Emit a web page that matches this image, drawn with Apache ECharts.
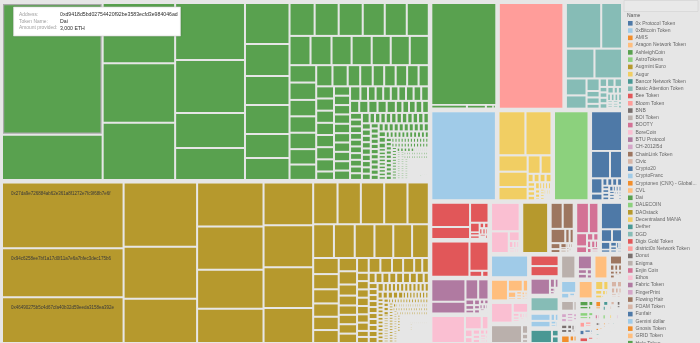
<!DOCTYPE html>
<html>
<head>
<meta charset="utf-8">
<script src="https://cdn.jsdelivr.net/npm/echarts/dist/echarts.min.js"></script>
<style>
  html, body { margin: 0; padding: 0; background: #e6e6e6; }
  #chart { width: 700px; height: 343px; }
</style>
</head>
<body>
<div id="chart"></div>
<script>
// Tableau 20 palette, assigned to tokens in alphabetical order
const palette = ['#4e79a7','#a0cbe8','#f28e2b','#ffbe7d','#59a14f','#8cd17d','#b6992d','#f1ce63','#499894','#86bcb6',
                 '#e15759','#ff9d9a','#79706e','#bab0ac','#d37295','#fabfd2','#b07aa1','#d4a6c8','#9d7660','#d7b5a6'];

const tokenNames = ['0x Protocol Token','0xBitcoin Token','AMIS','Aragon Network Token','AshleighCoin','AstroTokens',
  'Augmint Euro','Augur','Bancor Network Token','Basic Attention Token','Bee Token','Bloom Token','BNB','BOI Token',
  'BOOTY','BoreCoin','BTU Protocol','CH-2012l5d','ChainLink Token','Civic','Crypto20','CryptoFranc',
  'Cryptonex (CNX) - Global Blockchain','CVL','Dai','DALECOIN','DAOstack','Decentraland MANA','Dether','DGD',
  'Digix Gold Token','district0x Network Token','Donut','Enigma','Enjin Coin','Ethos','Fabric Token','FingerPrint',
  'Flowing Hair','FOAM Token','Funfair','Gemini dollar','Gnosis Token','GRID Token','Holo Token','HuobiToken',
  'HybridBlock','IOSToken','KyberNetwork','Loom Token','Maker','Mithril Token','Monaco','Nexo','OmiseGO','Ox Fina',
  'Paxos Standard','Polymath','Populous Platform','Power Ledger','QASH','Quantstamp','Raiden Token','Request Token',
  'SingularityNET','Status Network Token','Storj','Tether USD','TrueUSD','USD Coin','VeChain','Wax Token',
  'Wrapped Ether','XYO Network','Zilliqa'];

// Amounts provided (ETH) per address; [value, n] means n addresses with that amount
const daiAmounts = [3000, 1030, 990, 973, 939, 900, 838, 553, 506, 412, 323, 293, 293, 240, 222,
  187, 179, 179, 164, 164, 164, 139, 139, 133, 133, 126, 126, 126, 105, 105, 99, 99, 99, 93, 93,
  78, 73, 60, 60, 55, 55, 55, 55, [49, 8], [34, 12], [25, 14], [18, 16], [12.6, 20], [9.2, 24],
  [5.7, 30], [3.4, 40], [2, 60], [1.2, 80]];
const daiAddresses = ['0xd9418d5bd02754420f92be3583ecfd3e984046ad'];

const daoStackAmounts = [1814, 1347, 1264, 1070, 869, 736, 665, 650, 589, 514, 482, 471, 460, 393,
  231, 221, 221, 221, 202, 159, 159, 151, 144, 144, 128, 93, 88, 82, 77, 77, 75, 55, 55, 46, 41,
  [39, 7], 37, 37, 27, [22, 8], [16, 10], [12, 12], [8, 16], [5, 24], [3, 40], [2.2, 60], [1.4, 80], [0.9, 80]];
const daoStackAddresses = ['0x27da9e726884ab62e361a8f1272e7fc9f68b7e6f',
  '0x94c6258ee7bf1a17d0f11a7e6a7bfec3dec175b6', '0x46490275b5c4d67cfa40b32d59eeda3158ea392e'];

const ashleighAmounts = [1564, 31, 16.5, 6.4, 2.7];
const bloomAmounts = [1610];
const batAmounts = [382, 225, 202, 195, 83, 65, 39, 20, 20, [15, 4], [10, 5], [6.5, 6], [3.3, 8]];
const bitcoinAmounts = [1365];
const manaAmounts = [285, 275, 114, 107, 93, 57, 48, [12, 4], [8, 5], [5, 6], [3, 8], [1.5, 6]];
const dalecoinAmounts = [753];
const zrxAmounts = [303, 128, 81, 43, 19, [9, 4], [6, 5], [4, 6], [2, 8]];
const beeAmounts = [232, 116, 91, 23, 8, 8, 6, 6, 5, 5, 4, 4, 3, 3];
const digixAmounts = [333, 138, 19, 9.5];
const btuAmounts = [190, 100, 64, 52, 12, 10, 8, 8, 6, 6, 5, 5, 4, 4, 3, 3, 2, 2, 2];
const boreAmounts = [230, 57, 23, 15, 11.5, 10, 7.7, 7.7, 6.4, 5, 5, 3.8, 3.8, 2.6, 2.6];
const ethosAmounts = [207, 98, 27, 8, 6, 5, 4, 4, 3, 3];
const augmintAmounts = [332];
const chainlinkAmounts = [81, 74, 54, 16, 15, 15, 10, 8, 4, 4, 3, 3, 3, 2, 2, 2, 1.5, 1.5];
const bootyAmounts = [100, 75, 37, 18.5, 12, 10, 8, 8, 6, 6, 5, 4];
const crypto20Amounts = [145, 36.5, 33, 19, 8, 8, 6, 5, 5, 4, 3, 3];
const cryptoFrancAmounts = [212];
const aragonAmounts = [93, 46.5, 16.6, 13.9, 5.5, 5, 4.4, 3.9, 3.3, 2.8, 2.8, 2.2, 1.7, 1.7];
const oxFinaAmounts = [114, 40.5, 7.4, 6.1, 4.9, 4.9, 3.7, 3.7, 2.9, 2.5, 2.5, 2];
const boiAmounts = [149, 14, 9, 6];
const makerAmounts = [80, 77];
const fabricAmounts = [87, 12.5, 9.4, 5.2, 3.9, 3.1, 2.6, 2.1];
const dgdAmounts = [112];
const quantstampAmounts = [41, 37, 9, 7.5, 6, 4.5, 4.2];
const bancorAmounts = [81, 12.6, 12.6];
const enigmaAmounts = [95];
const paxosAmounts = [55.5, 12, 12, 7.5, 6];
const gridAmounts = [88];
const flowingHairAmounts = [32, 8.3, 7, 7, 5.5, 5.5, 4.1, 4.1, 3.3, 2.8, 2.4];
const geminiAmounts = [53, 13.5, 6, 3.5, 2];
const cvlAmounts = [73];
const augurAmounts = [22, 14, 10, 8, 6, 4, 2.5, 2, 1.5];
const civicAmounts = [12, 10, 8, 7, 6, 5, 4, 3, 3, 2];
const nexoAmounts = [40, 10];

// Tokens with only small positions
const smallTokenAmounts = [
  ['FingerPrint', [9, 8, 7, 6, 6, 5, 4, 2]], ['Donut', [9, 8, 7, 6, 6, 4, 3, 1]],
  ['AMIS', [22, 9, 6, 4]], ['Holo Token', [16, 10, 8, 4, 2]], ['AstroTokens', [14, 9, 7, 4, 2]],
  ['Mithril Token', [12, 8, 6, 4]], ['Funfair', [10, 8, 5, 3, 2]], ['VeChain', [16, 6, 4]],
  ['Gnosis Token', [14, 6, 4]], ['Dether', [10, 6, 4, 2]], ['FOAM Token', [8, 5, 4, 3]],
  ['Monaco', [8, 5, 3, 2]], ['Enjin Coin', [7, 5, 3, 2]], ['HuobiToken', [8, 4, 4]],
  ['IOSToken', [6, 4, 3, 2]], ['Polymath', [6, 4, 2, 2]], ['BNB', [7, 4, 2]], ['Raiden Token', [6, 4, 2]],
  ['Loom Token', [6, 3, 2]], ['district0x Network Token', [5, 3, 2]],
  ['Cryptonex (CNX) - Global Blockchain', [5, 4]], ['KyberNetwork', [4, 2, 2]],
  ['Populous Platform', [4, 2, 2]], ['Power Ledger', [4, 3]], ['QASH', [4, 2, 1]], ['OmiseGO', [3, 2, 1]],
  ['Request Token', [3, 2, 1]], ['SingularityNET', [3, 2, 1]], ['Status Network Token', [3, 2]],
  ['Storj', [3, 2]], ['Tether USD', [2, 2]], ['TrueUSD', [2, 1, 1]], ['USD Coin', [2, 1]],
  ['Wax Token', [2, 1]], ['CH-2012l5d', [2, 1]], ['Wrapped Ether', [1, 1]], ['XYO Network', [1, 1]],
  ['Zilliqa', [1, 1]], ['HybridBlock', [1, 1]]
];

const holdings = [
  ['Dai', daiAmounts, daiAddresses], ['DAOstack', daoStackAmounts, daoStackAddresses],
  ['AshleighCoin', ashleighAmounts], ['Bloom Token', bloomAmounts], ['Basic Attention Token', batAmounts],
  ['0xBitcoin Token', bitcoinAmounts], ['Decentraland MANA', manaAmounts], ['DALECOIN', dalecoinAmounts],
  ['0x Protocol Token', zrxAmounts], ['Bee Token', beeAmounts], ['Digix Gold Token', digixAmounts],
  ['BTU Protocol', btuAmounts], ['BoreCoin', boreAmounts], ['Ethos', ethosAmounts],
  ['Augmint Euro', augmintAmounts], ['ChainLink Token', chainlinkAmounts], ['BOOTY', bootyAmounts],
  ['Crypto20', crypto20Amounts], ['CryptoFranc', cryptoFrancAmounts], ['Aragon Network Token', aragonAmounts],
  ['Ox Fina', oxFinaAmounts], ['BOI Token', boiAmounts], ['Maker', makerAmounts], ['Fabric Token', fabricAmounts],
  ['DGD', dgdAmounts], ['Quantstamp', quantstampAmounts], ['Bancor Network Token', bancorAmounts],
  ['Enigma', enigmaAmounts], ['Paxos Standard', paxosAmounts], ['GRID Token', gridAmounts],
  ['Flowing Hair', flowingHairAmounts], ['Gemini dollar', geminiAmounts], ['CVL', cvlAmounts],
  ['Augur', augurAmounts], ['Civic', civicAmounts], ['Nexo', nexoAmounts]
].concat(smallTokenAmounts);

const BG = '#e6e6e6';
const colorOf = name => palette[tokenNames.indexOf(name) % palette.length];

function expand(list) {
  const out = [];
  list.forEach(v => {
    if (Array.isArray(v)) { for (let i = 0; i < v[1]; i++) out.push(v[0]); }
    else out.push(v);
  });
  return out;
}

const hovered = { token: 'Dai', index: 0 };

const treeData = holdings.map(([token, amounts, addresses]) => {
  const color = colorOf(token);
  return {
    name: token,
    itemStyle: { color },
    children: expand(amounts).map((v, i) => {
      const leaf = { name: (addresses && addresses[i]) || '', value: v, itemStyle: { color } };
      if (token === 'DAOstack' && addresses && addresses[i]) leaf.label = { show: true };
      if (token === hovered.token && i === hovered.index) {
        leaf.itemStyle = { color, borderColor: '#a8a8a8', borderWidth: 1.2 };
      }
      return leaf;
    })
  };
});

// Hover card content for the highlighted address
const hoveredAmount = expand(daiAmounts)[hovered.index];
const cardRows = [
  ['Address:', daiAddresses[hovered.index]],
  ['Token Name:', hovered.token],
  ['Amount provided:', hoveredAmount.toLocaleString('en-US') + ' ETH']
];

const graphics = [];
// hover card
graphics.push({ type: 'rect', z: 100, shape: { x: 13.5, y: 7, width: 167, height: 29 },
  style: { fill: '#ffffff', stroke: '#dcdcdc', lineWidth: 0.6, shadowBlur: 2, shadowColor: 'rgba(0,0,0,0.12)' } });
cardRows.forEach((r, i) => {
  const y = 14.7 + i * 6.7;
  graphics.push({ type: 'text', z: 101, x: 19, y, style: { text: r[0], fontSize: 4.9,
    fontFamily: 'Liberation Sans', fill: '#a0a0a0', verticalAlign: 'middle' } });
  graphics.push({ type: 'text', z: 101, x: 60, y, style: { text: r[1], fontSize: 5.2,
    fontFamily: 'Liberation Sans', fill: '#2e2e2e', verticalAlign: 'middle' } });
});

// legend panel
graphics.push({ type: 'rect', z: 100, shape: { x: 624, y: 0.5, width: 74, height: 11 },
  style: { fill: '#e9e9e9', stroke: '#d6d6d6', lineWidth: 0.8 } });
graphics.push({ type: 'text', z: 101, x: 627, y: 15.8, style: { text: 'Name', fontSize: 5,
  fontFamily: 'Liberation Sans', fill: '#555555', verticalAlign: 'middle' } });
tokenNames.forEach((name, i) => {
  const cy = 23.3 + i * 7.27;
  if (cy > 350) return;
  const label = name.length > 26 ? name.slice(0, 24) + '...' : name;
  graphics.push({ type: 'rect', z: 101, shape: { x: 628, y: cy - 2.3, width: 4.6, height: 4.6 },
    style: { fill: palette[i % palette.length] } });
  graphics.push({ type: 'text', z: 101, x: 635.5, y: cy, style: { text: label, fontSize: 5,
    fontFamily: 'Liberation Sans', fill: '#666666', verticalAlign: 'middle' } });
});

const chart = echarts.init(document.getElementById('chart'), null, { renderer: 'canvas' });
chart.setOption({
  backgroundColor: BG,
  animation: false,
  series: [{
    type: 'treemap',
    left: 3, top: 4, width: 618, height: 338,
    roam: false,
    nodeClick: false,
    silent: true,
    breadcrumb: { show: false },
    visibleMin: 0,
    sort: 'desc',
    upperLabel: { show: false },
    label: {
      show: false,
      position: [3, 2.5],
      fontSize: 4.5,
      fontFamily: 'Liberation Sans',
      color: '#3a3a3a',
      formatter: '{b}'
    },
    itemStyle: { borderWidth: 0, gapWidth: 0, borderColor: BG },
    levels: [
      { itemStyle: { borderWidth: 0, gapWidth: 4.5, borderColor: BG } },
      { itemStyle: { borderWidth: 0, gapWidth: 2, borderColor: BG } },
      { itemStyle: { borderWidth: 0, borderColor: '#f2f2f2' } }
    ],
    data: treeData
  }],
  graphic: graphics
});
</script>
</body>
</html>
